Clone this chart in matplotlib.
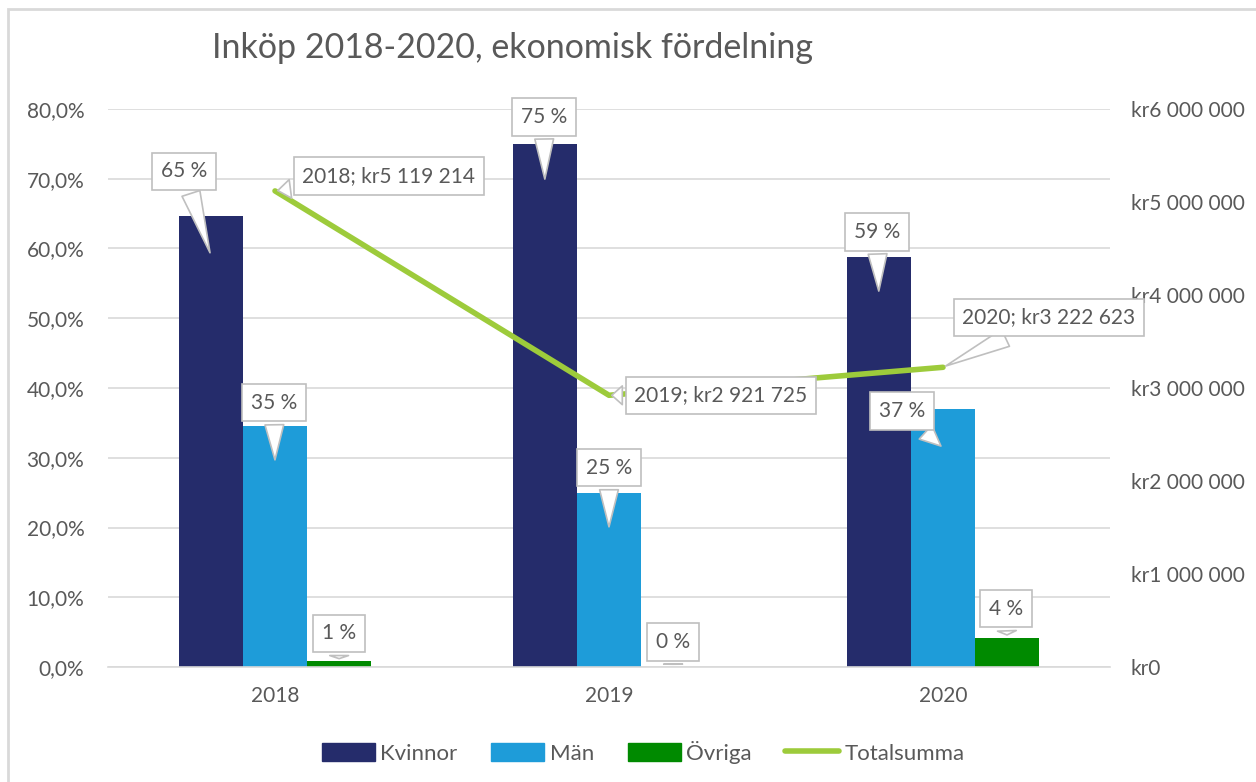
import numpy as np
import matplotlib
matplotlib.use("Agg")
import matplotlib.pyplot as plt
from matplotlib.patches import Patch, Rectangle
from matplotlib.lines import Line2D
from matplotlib.transforms import offset_copy

plt.rcParams['font.family'] = ['Lato', 'DejaVu Sans']

years = ['2018', '2019', '2020']
kvinnor = [64.6, 75.0, 58.8]
man = [34.6, 25.0, 37.0]
ovriga = [0.8, 0.0, 4.2]
totalsumma = [5119214, 2921725, 3222623]

c_kv = '#252C6B'
c_man = '#1E9CD9'
c_ov = '#008A00'
c_line = '#9DCB3B'
grey = '#595959'
grid = '#D9D9D9'
fs = 15

fig = plt.figure(figsize=(12.56, 7.82), dpi=100)
ax = fig.add_axes([108/1256, 1-667/782, (1110-108)/1256, (667-109)/782])
ax2 = ax.twinx()

x = np.arange(len(years))
w = 0.192
ax.bar(x - w, kvinnor, w, color=c_kv, zorder=2)
ax.bar(x, man, w, color=c_man, zorder=2)
ax.bar(x + w, ovriga, w, color=c_ov, zorder=2)

ax.set_xlim(-0.5, 2.5)
ax.set_ylim(0, 80)
ax.set_yticks(np.arange(0, 81, 10))
ax.set_yticklabels([f"{v:.1f}%".replace('.', ',') for v in np.arange(0, 81, 10)])
ax.set_xticks(x)
ax.set_xticklabels(years)
ax.grid(axis='y', color=grid, lw=1.2, zorder=0)
ax.set_axisbelow(True)

ax2.plot(x, totalsumma, color=c_line, lw=4, solid_capstyle='round', zorder=2)
ax2.set_ylim(0, 6000000)
ax2.set_yticks(np.arange(0, 6000001, 1000000))
ax2.set_yticklabels([f"kr{int(v):,}".replace(',', ' ') for v in np.arange(0, 6000001, 1000000)])

for a in (ax, ax2):
    for s in a.spines.values():
        s.set_visible(False)
    a.tick_params(length=0, labelsize=fs, labelcolor=grey)
ax.spines['bottom'].set_visible(True)
ax.spines['bottom'].set_color(grid)
ax.spines['bottom'].set_linewidth(1.2)
ax.tick_params(axis='y', pad=17)
ax.tick_params(axis='x', pad=14)
ax2.tick_params(axis='y', pad=15)

box = dict(boxstyle='square,pad=0.42', fc='white', ec='#BFBFBF', lw=1.2)
arrow = dict(arrowstyle='wedge,tail_width=0.9,shrink_factor=0.5', fc='white', ec='#BFBFBF', lw=1.2)

# bar callouts: (box dx, box dy, tip drop) in pixels
offs = {
    0: [(-27, 84, 39), (-1, 65, 38), (-2, 62, 37)],
    1: [(-1, 60, 37), (0, 62, 37), (-41, 37, 39)],
    2: [(0, 28, 0), (0, 25, 0), (-1, 29, 0)],
}
series = [kvinnor, man, ovriga]
shift = [-w, 0, w]
for si, vals in enumerate(series):
    for i, v in enumerate(vals):
        dx, dy, drop = offs[si][i]
        tr = offset_copy(ax.transData, fig=fig, x=0, y=-drop, units='dots')
        ax2.annotate(f"{round(v):d} %", xy=(x[i] + shift[si], v), xycoords=tr,
                     xytext=(dx, dy), textcoords='offset pixels',
                     ha='center', va='center', fontsize=fs, color=grey,
                     bbox=box, arrowprops=arrow, zorder=5)

line_offs = [(114, 15), (112, 0), (106, 50)]
for i, v in enumerate(totalsumma):
    txt = f"{years[i]}; kr{v:,}".replace(',', ' ')
    ax2.annotate(txt, xy=(x[i], v), xycoords='data',
                 xytext=line_offs[i], textcoords='offset pixels',
                 ha='center', va='center', fontsize=fs, color=grey,
                 bbox=box, arrowprops=arrow, zorder=5)

fig.text(513/1256, 1-48/782, 'Inköp 2018-2020, ekonomisk fördelning',
         ha='center', va='center', fontsize=24.5, color=grey)

handles = [Patch(color=c_kv), Patch(color=c_man), Patch(color=c_ov),
           Line2D([0], [0], color=c_line, lw=4, solid_capstyle='round')]
fig.legend(handles, ['Kvinnor', 'Män', 'Övriga', 'Totalsumma'],
           loc='center', bbox_to_anchor=(643/1256, 1-752/782), ncol=4,
           frameon=False, fontsize=16, labelcolor=grey,
           handlelength=2.4, handleheight=0.85, handletextpad=0.25, columnspacing=1.5)

fig.patches.append(Rectangle((8/1256, -0.05), 1.1, 1 - 9/782 + 0.05,
                             transform=fig.transFigure, fill=False,
                             ec=grid, lw=2, zorder=0))

fig.savefig('out.png', dpi=100)
